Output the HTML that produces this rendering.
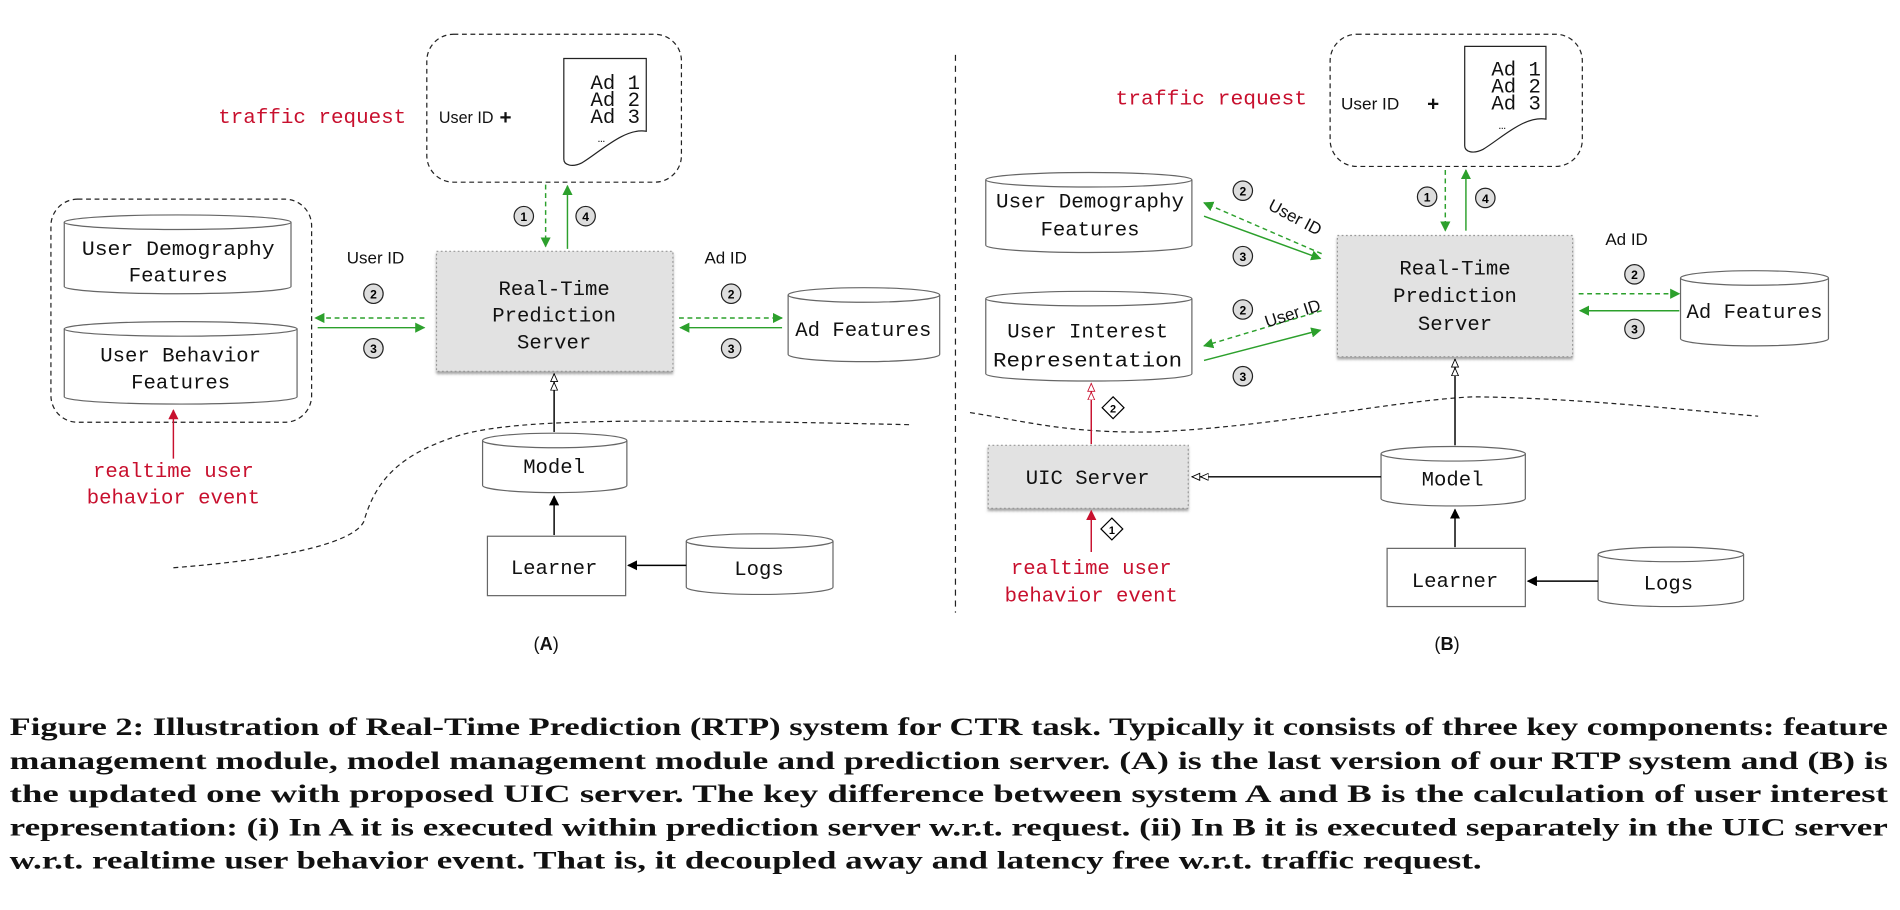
<!DOCTYPE html>
<html><head><meta charset="utf-8"><style>
html,body{margin:0;padding:0;background:#fff;}
svg{display:block;}
.m{font-family:"Liberation Mono",monospace;font-size:17px;fill:#111;}
.s{font-family:"Liberation Sans",sans-serif;fill:#111;}
.r{fill:#c8102e;}
.cap{font-family:"Liberation Serif",serif;font-weight:bold;font-size:21px;fill:#111;}
</style></head><body>
<svg width="1900" height="910" viewBox="0 0 1567 750" xmlns="http://www.w3.org/2000/svg">
<defs>
<marker id="g" viewBox="0 0 10 10" refX="9" refY="5" markerWidth="7" markerHeight="7" orient="auto-start-reverse"><path d="M0,0L10,5L0,10z" fill="#2ca02c"/></marker>
<marker id="k" viewBox="0 0 10 10" refX="9" refY="5" markerWidth="7" markerHeight="7" orient="auto"><path d="M0,0L10,5L0,10z" fill="#000"/></marker>
<marker id="h" viewBox="0 0 20 10" refX="19" refY="5" markerWidth="12" markerHeight="6" orient="auto"><path d="M0,1L9,5L0,9zM10,1L19,5L10,9z" fill="#fff" stroke="#000" stroke-width="1"/></marker>
<marker id="rf" viewBox="0 0 10 10" refX="9" refY="5" markerWidth="7" markerHeight="7" orient="auto"><path d="M0,0L10,5L0,10z" fill="#c8102e"/></marker>
<marker id="rh" viewBox="0 0 20 10" refX="19" refY="5" markerWidth="12" markerHeight="6" orient="auto"><path d="M0,1L9,5L0,9zM10,1L19,5L10,9z" fill="#fff" stroke="#c8102e" stroke-width="1"/></marker>
<filter id="sh"><feDropShadow dx="0" dy="2" stdDeviation="1.2" flood-color="#666" flood-opacity="0.6"/></filter>
</defs>
<g fill="none" stroke="#222" stroke-width="1">
<rect x="352" y="28" width="210" height="122" rx="22" stroke-dasharray="4,3"/>
<path d="M465,48H533V108C515,105 495,125 480,134C472,138 465,136 465,131Z" fill="#fff"/>
<rect x="42" y="164" width="215" height="184" rx="22" stroke-dasharray="4,3"/>
<path d="M53,183V236A93.5,6 0 0 0 240,236V183" fill="#fff" stroke="#666"/><ellipse cx="146.5" cy="183" rx="93.5" ry="6" fill="#fff" stroke="#666"/>
<path d="M53,271V327A96,6 0 0 0 245,327V271" fill="#fff" stroke="#666"/><ellipse cx="149" cy="271" rx="96" ry="6" fill="#fff" stroke="#666"/>
<path d="M650,243V292A62.5,6 0 0 0 775,292V243" fill="#fff" stroke="#666"/><ellipse cx="712.5" cy="243" rx="62.5" ry="6" fill="#fff" stroke="#666"/>
<path d="M398,363V400A59.5,6 0 0 0 517,400V363" fill="#fff" stroke="#666"/><ellipse cx="457.5" cy="363" rx="59.5" ry="6" fill="#fff" stroke="#666"/>
<path d="M566,446V484A60.5,6 0 0 0 687,484V446" fill="#fff" stroke="#666"/><ellipse cx="626.5" cy="446" rx="60.5" ry="6" fill="#fff" stroke="#666"/>
<rect x="402" y="442" width="114" height="49" stroke="#666"/>
<rect x="360" y="207" width="195" height="99" fill="#e2e2e2" stroke="#999" stroke-dasharray="1.5,2" filter="url(#sh)"/>
<path d="M143,468C220,462 290,450 300,430C310,395 330,375 375,360C420,345 520,345 750,350" stroke-dasharray="4,3"/>
<line x1="788" y1="45" x2="788" y2="505" stroke-dasharray="5,4"/>
<rect x="1097" y="28" width="208" height="109" rx="22" stroke-dasharray="4,3"/>
<path d="M1208,38H1275V98C1257,95 1238,114 1223,123C1215,127 1208,125 1208,120Z" fill="#fff"/>
<path d="M813,148V202A85,6 0 0 0 983,202V148" fill="#fff" stroke="#666"/><ellipse cx="898" cy="148" rx="85" ry="6" fill="#fff" stroke="#666"/>
<path d="M813,246V308A85,6 0 0 0 983,308V246" fill="#fff" stroke="#666"/><ellipse cx="898" cy="246" rx="85" ry="6" fill="#fff" stroke="#666"/>
<path d="M1386,229V279A61,6 0 0 0 1508,279V229" fill="#fff" stroke="#666"/><ellipse cx="1447" cy="229" rx="61" ry="6" fill="#fff" stroke="#666"/>
<path d="M1139,374V411A59.5,6 0 0 0 1258,411V374" fill="#fff" stroke="#666"/><ellipse cx="1198.5" cy="374" rx="59.5" ry="6" fill="#fff" stroke="#666"/>
<path d="M1318,457V494A60,6 0 0 0 1438,494V457" fill="#fff" stroke="#666"/><ellipse cx="1378" cy="457" rx="60" ry="6" fill="#fff" stroke="#666"/>
<rect x="1144" y="452" width="114" height="48" stroke="#666"/>
<rect x="1103" y="194" width="194" height="100" fill="#e2e2e2" stroke="#999" stroke-dasharray="1.5,2" filter="url(#sh)"/>
<rect x="815" y="367" width="165" height="52" fill="#e2e2e2" stroke="#999" stroke-dasharray="1.5,2" filter="url(#sh)"/>
<path d="M800,340C850,348 880,357 950,356C1050,352 1150,330 1215,327C1300,328 1380,337 1450,343" stroke-dasharray="4,3"/>
</g>
<g stroke="#2ca02c" stroke-width="1.2" fill="none">
<line x1="450" y1="152" x2="450" y2="203" stroke-dasharray="4,3" marker-end="url(#g)"/>
<line x1="468" y1="205" x2="468" y2="153" marker-end="url(#g)"/>
<line x1="350" y1="262" x2="260" y2="262" stroke-dasharray="4,3" marker-end="url(#g)"/>
<line x1="262" y1="270" x2="350" y2="270" marker-end="url(#g)"/>
<line x1="560" y1="262" x2="645" y2="262" stroke-dasharray="4,3" marker-end="url(#g)"/>
<line x1="645" y1="270" x2="561" y2="270" marker-end="url(#g)"/>
<line x1="1192" y1="140" x2="1192" y2="190" stroke-dasharray="4,3" marker-end="url(#g)"/>
<line x1="1209" y1="190" x2="1209" y2="140" marker-end="url(#g)"/>
<line x1="1302" y1="242" x2="1385" y2="242" stroke-dasharray="4,3" marker-end="url(#g)"/>
<line x1="1385" y1="256" x2="1303" y2="256" marker-end="url(#g)"/>
<line x1="1090" y1="209" x2="993" y2="167" stroke-dasharray="4,3" marker-end="url(#g)"/>
<line x1="993" y1="178" x2="1089" y2="213" marker-end="url(#g)"/>
<line x1="1090" y1="256" x2="993" y2="285" stroke-dasharray="4,3" marker-end="url(#g)"/>
<line x1="993" y1="297" x2="1089" y2="272" marker-end="url(#g)"/>
</g>
<g stroke="#000" stroke-width="1.2" fill="none">
<line x1="457" y1="356" x2="457" y2="308" marker-end="url(#h)"/>
<line x1="457" y1="441" x2="457" y2="409" marker-end="url(#k)"/>
<line x1="566" y1="466" x2="518" y2="466" marker-end="url(#k)"/>
<line x1="1200" y1="367" x2="1200" y2="296" marker-end="url(#h)"/>
<line x1="1139" y1="393" x2="983" y2="393" marker-end="url(#h)"/>
<line x1="1200" y1="451" x2="1200" y2="420" marker-end="url(#k)"/>
<line x1="1318" y1="479" x2="1260" y2="479" marker-end="url(#k)"/>
</g>
<g stroke="#c8102e" stroke-width="1.2" fill="none">
<line x1="143" y1="378" x2="143" y2="338" marker-end="url(#rf)"/>
<line x1="900" y1="366" x2="900" y2="316" marker-end="url(#rh)"/>
<line x1="900" y1="455" x2="900" y2="421" marker-end="url(#rf)"/>
</g>
<g font-family="Liberation Sans,sans-serif" font-size="10" font-weight="bold" text-anchor="middle">
<g fill="#ddd" stroke="#222" stroke-width="1">
<circle cx="432" cy="178" r="8"/><circle cx="483" cy="178" r="8"/>
<circle cx="308" cy="242" r="8"/><circle cx="308" cy="287" r="8"/>
<circle cx="603" cy="242" r="8"/><circle cx="603" cy="287" r="8"/>
<circle cx="1177" cy="162" r="8"/><circle cx="1225" cy="163" r="8"/>
<circle cx="1348" cy="226" r="8"/><circle cx="1348" cy="271" r="8"/>
<circle cx="1025" cy="157" r="8"/><circle cx="1025" cy="211" r="8"/>
<circle cx="1025" cy="255" r="8"/><circle cx="1025" cy="310" r="8"/>
</g>
<text x="432" y="182">1</text><text x="483" y="182">4</text>
<text x="308" y="246">2</text><text x="308" y="291">3</text>
<text x="603" y="246">2</text><text x="603" y="291">3</text>
<text x="1177" y="166">1</text><text x="1225" y="167">4</text>
<text x="1348" y="230">2</text><text x="1348" y="275">3</text>
<text x="1025" y="161">2</text><text x="1025" y="215">3</text>
<text x="1025" y="259">2</text><text x="1025" y="314">3</text>
<path d="M918,327L927,336L918,345L909,336Z" fill="#fff" stroke="#000"/>
<path d="M917,427L926,436L917,445L908,436Z" fill="#fff" stroke="#000"/>
<text x="918" y="340" font-size="9">2</text><text x="917" y="440" font-size="9">1</text>
</g>
<g class="m" text-anchor="middle">
<text x="147" y="210" textLength="159" lengthAdjust="spacingAndGlyphs">User Demography</text><text x="147" y="232">Features</text>
<text x="149" y="298">User Behavior</text><text x="149" y="320">Features</text>
<text x="457" y="243">Real-Time</text><text x="457" y="265">Prediction</text><text x="457" y="287">Server</text>
<text x="712" y="277">Ad Features</text>
<text x="457" y="390">Model</text>
<text x="457" y="473">Learner</text>
<text x="626" y="474">Logs</text>
<text x="143" y="393" class="m r">realtime user</text><text x="143" y="415" class="m r">behavior event</text>
<text x="899" y="171" textLength="155" lengthAdjust="spacingAndGlyphs">User Demography</text><text x="899" y="194">Features</text>
<text x="897" y="278">User Interest</text><text x="897" y="302" textLength="156" lengthAdjust="spacingAndGlyphs">Representation</text>
<text x="1200" y="226">Real-Time</text><text x="1200" y="249">Prediction</text><text x="1200" y="272">Server</text>
<text x="1447" y="262">Ad Features</text>
<text x="897" y="399">UIC Server</text>
<text x="1198" y="400">Model</text>
<text x="1200" y="484">Learner</text>
<text x="1376" y="486">Logs</text>
<text x="900" y="473" class="m r">realtime user</text><text x="900" y="496" class="m r">behavior event</text>
</g>
<g class="m r">
<text x="180" y="101" textLength="155" lengthAdjust="spacingAndGlyphs">traffic request</text>
<text x="920" y="86" textLength="158" lengthAdjust="spacingAndGlyphs">traffic request</text>
</g>
<g class="m" font-size="15">
<text x="487" y="73">Ad 1</text><text x="487" y="87">Ad 2</text><text x="487" y="101">Ad 3</text><text x="493" y="117" font-size="10">…</text>
<text x="1230" y="62">Ad 1</text><text x="1230" y="76">Ad 2</text><text x="1230" y="90">Ad 3</text><text x="1236" y="106" font-size="10">…</text>
</g>
<g class="s" font-size="14">
<text x="362" y="101" textLength="45" lengthAdjust="spacingAndGlyphs">User ID</text><text x="412" y="102" font-weight="bold" font-size="17">+</text>
<text x="1106" y="90" textLength="48" lengthAdjust="spacingAndGlyphs">User ID</text><text x="1177" y="91" font-weight="bold" font-size="17">+</text>
<text x="286" y="217">User ID</text><text x="581" y="217">Ad ID</text>
<text x="1324" y="202">Ad ID</text>
<text x="1045" y="172" transform="rotate(28 1045 172)">User ID</text>
<text x="1045" y="270" transform="rotate(-18 1045 270)">User ID</text>
<text x="440" y="536" font-size="15">(<tspan font-weight="bold">A</tspan>)</text>
<text x="1183" y="536" font-size="15">(<tspan font-weight="bold">B</tspan>)</text>
</g>
<g class="cap">
<text x="8" y="606" textLength="1549" lengthAdjust="spacingAndGlyphs">Figure 2: Illustration of Real-Time Prediction (RTP) system for CTR task. Typically it consists of three key components: feature</text>
<text x="8" y="634" textLength="1549" lengthAdjust="spacingAndGlyphs">management module, model management module and prediction server. (A) is the last version of our RTP system and (B) is</text>
<text x="8" y="661" textLength="1549" lengthAdjust="spacingAndGlyphs">the updated one with proposed UIC server. The key difference between system A and B is the calculation of user interest</text>
<text x="8" y="689" textLength="1549" lengthAdjust="spacingAndGlyphs">representation: (i) In A it is executed within prediction server w.r.t. request. (ii) In B it is executed separately in the UIC server</text>
<text x="8" y="716" textLength="1214" lengthAdjust="spacingAndGlyphs">w.r.t. realtime user behavior event. That is, it decoupled away and latency free w.r.t. traffic request.</text>
</g>
</svg>
</body></html>
